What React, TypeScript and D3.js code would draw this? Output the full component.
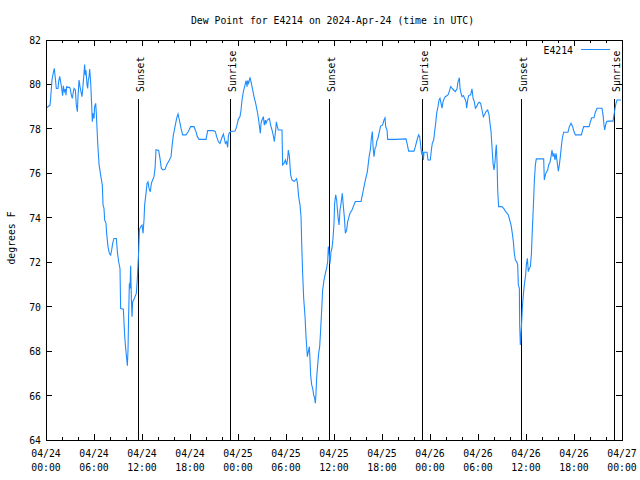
import React from "react";
import * as d3 from "d3";

const TITLE = "Dew Point for E4214 on 2024-Apr-24 (time in UTC)";
const Y_LABEL = "degrees F";
const SERIES_NAME = "E4214";

const yTicks = [64, 66, 68, 70, 72, 74, 76, 78, 80, 82];
const xTickHours = [0, 6, 12, 18, 24, 30, 36, 42, 48, 54, 60, 66, 72];
const xTickDates = ["04/24", "04/24", "04/24", "04/24", "04/25", "04/25", "04/25", "04/25", "04/26", "04/26", "04/26", "04/26", "04/27"];
const xTickTimes = ["00:00", "06:00", "12:00", "18:00", "00:00", "06:00", "12:00", "18:00", "00:00", "06:00", "12:00", "18:00", "00:00"];

const sunHours = [11.55, 23.03, 35.42, 46.94, 59.42, 70.94];
const sunLabels = ["Sunset", "Sunrise", "Sunset", "Sunrise", "Sunset", "Sunrise"];

// hours since 2024-04-24 00:00 UTC
const dewHours = [
  0.08, 0.5, 0.58, 0.75, 0.92, 1.04, 1.17, 1.29, 1.5, 1.58, 1.71, 1.83, 1.96, 2.08, 2.17, 2.29, 2.42, 2.5, 2.58, 2.79,
  2.96, 3.04, 3.17, 3.29, 3.42, 3.5, 3.67, 3.79, 3.92, 4.0, 4.13, 4.25, 4.38, 4.5, 4.63, 4.75, 4.83, 4.92, 5.0, 5.13,
  5.21, 5.29, 5.38, 5.46, 5.58, 5.71, 5.79, 5.88, 6.0, 6.08, 6.21, 6.29, 6.46, 6.63, 6.83, 7.04, 7.13, 7.25, 7.33, 7.5,
  7.58, 7.75, 7.92, 8.08, 8.21, 8.33, 8.5, 8.79, 8.92, 9.08, 9.25, 9.33, 9.67, 9.83, 9.96, 10.08, 10.17, 10.25, 10.33, 10.42,
  10.5, 10.58, 10.67, 10.75, 10.83, 10.96, 11.13, 11.29, 11.42, 11.58, 11.67, 11.83, 12.0, 12.13, 12.25, 12.33, 12.5, 12.63, 12.75, 12.88,
  13.04, 13.17, 13.33, 13.5, 13.63, 13.75, 14.08, 14.25, 14.42, 14.63,
  14.88, 15.08, 15.42, 15.63, 15.75, 15.92, 16.13, 16.33, 16.5, 16.67, 16.88, 17.08, 17.5, 17.79, 18.08, 18.5, 18.75, 18.92, 19.13, 20.0,
  20.21, 20.92, 21.17, 21.33, 21.54, 21.75, 21.96, 22.17, 22.29, 22.42, 22.58, 22.71, 22.79, 22.88, 23.08, 23.63, 23.83, 24.04, 24.25, 24.38,
  24.5, 24.67, 24.88, 25.0, 25.13, 25.21, 25.33, 25.5, 25.63, 25.79, 26.0, 26.21, 26.42, 26.58, 26.71, 26.79, 26.88, 27.0, 27.17, 27.29,
  27.42, 27.5, 27.67, 27.92, 28.08, 28.25, 28.42, 28.54, 28.71, 28.79, 28.92,
  29.04, 29.17, 29.5, 29.58, 29.75, 29.92, 30.08, 30.21, 30.29, 30.42, 30.5, 30.58, 30.75, 31.04, 31.17, 31.33, 31.46, 31.58, 31.75, 31.88,
  31.96, 32.08, 32.21, 32.38, 32.5, 32.67, 32.79, 32.92, 33.0, 33.08, 33.21, 33.33, 33.46, 33.58, 33.67, 33.75, 33.83, 33.96, 34.08, 34.21,
  34.33, 34.46, 34.58, 34.75, 34.92, 35.08, 35.21, 35.29, 35.38, 35.5, 35.63, 35.75, 35.88, 36.0, 36.08, 36.21, 36.33, 36.5, 36.63, 36.75,
  36.88, 37.04, 37.17, 37.29, 37.42, 37.58, 37.71, 37.83, 38.0, 38.25, 38.5, 38.67, 39.38, 39.5, 39.67, 39.83, 40.0, 40.17, 40.29, 40.42,
  40.54, 40.67, 40.79, 40.88, 41.0, 41.13, 41.25, 41.33, 41.5, 41.67, 41.83, 42.08, 42.25, 42.38, 42.46, 42.63, 42.71, 43.75,
  45.0, 45.17, 45.33, 46.0, 46.17, 46.38, 46.58, 46.71, 46.79, 46.92, 47.0, 47.08, 47.17, 47.25, 47.63, 47.75, 48.04, 48.17, 48.29, 48.46,
  48.58, 48.71, 48.83, 49.0, 49.13, 49.25, 49.38, 49.5, 49.63, 49.79, 49.92, 50.13, 50.25, 50.42, 50.58, 50.75, 50.96, 51.17, 51.38, 51.5,
  51.58, 51.67, 51.75, 51.88, 52.0, 52.17, 52.33, 52.5, 52.58, 52.71, 52.83, 53.08, 53.25, 53.38, 53.54, 53.67, 53.83, 54.0, 54.17, 54.33,
  54.5, 54.67, 54.83, 55.0, 55.21, 55.38, 55.5, 55.63, 55.75, 55.88, 56.0, 56.13, 56.21, 56.29, 56.38, 56.46, 56.58, 57.0, 57.25, 57.42,
  57.79, 57.96, 58.13, 58.29, 58.42, 58.54, 58.67, 58.83, 58.96, 59.04, 59.17, 59.21, 59.29, 59.38, 59.46, 59.54, 59.67, 59.79, 59.96, 60.04,
  60.17, 60.29, 60.42, 60.54, 60.67, 60.79, 60.92, 61.04, 61.17, 61.29, 62.21, 62.29, 62.42, 62.54, 62.71, 62.83, 63.0, 63.13, 63.25, 63.38,
  63.5, 63.63, 63.75, 63.92, 64.04, 64.17, 64.29, 64.42, 64.54, 64.71, 65.25, 65.42, 65.63, 65.83, 66.0, 66.17, 66.92, 67.08, 67.21, 67.88,
  68.04, 68.21, 68.5, 68.67, 68.88, 69.5, 69.63, 69.75, 69.83, 69.96, 70.08, 70.29, 70.88, 71.0, 71.13, 71.25, 71.38, 71.88,
];

const dewValues = [
  78.95, 79.07, 79.37, 80.2, 80.54, 80.72, 80.27, 79.82, 79.82, 80.12, 80.36, 80.12, 79.82, 79.49, 79.94, 79.67, 79.79, 79.52, 79.9, 79.87,
  79.87, 79.78, 79.52, 79.37, 79.67, 79.82, 79.75, 79.07, 78.77, 79.45, 80.2, 79.9, 79.67, 79.45, 79.97, 80.5, 80.9, 80.42, 80.64, 79.97,
  79.82, 80.2, 80.35, 80.69, 80.12, 79.07, 78.32, 78.7, 78.47, 79.0, 79.15, 78.7, 77.39, 76.4, 75.92, 75.47, 74.57, 74.42, 73.9, 73.75,
  73.3, 72.7, 72.4, 72.32, 72.55, 72.85, 73.07, 73.07, 72.47, 72.02, 71.72, 69.92, 69.89, 68.72, 68.12, 67.67, 67.34, 68.05, 69.62, 71.05,
  70.82, 71.84, 70.37, 69.55, 70.22, 70.3, 70.45, 70.6, 71.27, 72.47, 73.45, 73.6, 73.67, 73.3, 73.9, 74.57, 75.1, 75.55, 75.62, 75.32,
  75.17, 75.55, 75.7, 75.85, 76.22, 77.06, 77.03, 76.67, 76.22, 76.15,
  76.18, 76.38, 76.6, 76.75, 77.2, 77.73, 78.1, 78.47, 78.67, 78.4, 78.02, 77.73, 77.73, 77.88, 78.1, 78.1, 77.88, 77.65, 77.53, 77.53,
  77.92, 77.92, 77.88, 77.65, 77.43, 77.35, 77.58, 77.77, 77.58, 77.35, 77.43, 77.17, 77.65, 77.8, 77.88, 77.9, 78.1, 78.43, 78.55, 78.85,
  79.3, 79.68, 79.98, 80.17, 79.9, 80.17, 80.05, 80.32, 80.12, 79.83, 79.45, 79.15, 78.77, 78.4, 78.02, 77.8, 78.25, 78.4, 78.55, 78.17,
  78.4, 78.25, 78.4, 78.47, 78.17, 77.95, 77.68, 77.43, 77.95, 78.32, 78.1,
  77.95, 77.95, 77.95, 76.38, 76.45, 76.6, 76.38, 76.68, 77.05, 76.78, 76.33, 75.93, 75.7, 75.63, 75.7, 75.76, 75.47, 74.95, 74.58, 74.05,
  72.85, 71.5, 70.38, 69.55, 68.65, 67.75, 67.98, 68.2, 67.6, 66.93, 66.48, 66.33, 66.03, 65.88, 65.65, 66.1, 66.78, 67.38, 67.9, 68.2,
  68.95, 69.85, 70.75, 71.2, 71.5, 71.73, 72.03, 72.7, 72.48, 71.95, 72.48, 72.63, 73.08, 73.75, 74.65, 75.03, 74.8, 74.05, 73.68, 74.35,
  74.65, 75.1, 74.5, 74.05, 73.3, 73.45, 73.83, 73.98, 74.2, 74.35, 74.58, 74.73, 74.73, 74.95, 75.25, 75.55, 75.82, 76.08, 76.45, 76.83,
  77.05, 77.58, 77.88, 77.2, 76.75, 77.13, 77.2, 77.43, 77.58, 77.88, 78.13, 78.18, 78.4, 78.5, 78.1, 77.95, 77.53, 77.53,
  77.55, 77.28, 77.0, 77.0, 77.2, 77.5, 77.73, 77.65, 77.4, 76.98, 76.83, 77.0, 76.6, 76.95, 76.95, 76.6, 76.6, 77.05, 77.35, 77.5,
  77.88, 78.25, 78.7, 79.0, 79.3, 79.38, 79.15, 78.93, 79.23, 79.38, 79.45, 79.5, 79.53, 79.7, 79.9, 79.83, 79.75, 79.68, 79.8, 80.13,
  80.2, 80.3, 79.83, 79.6, 79.45, 79.5, 79.38, 79.23, 78.93, 79.3, 79.5, 79.53, 79.8, 79.38, 79.23, 78.93, 79.0, 79.15, 79.2, 79.15,
  78.85, 78.55, 78.65, 78.78, 78.85, 78.63, 78.25, 77.88, 77.2, 76.45, 76.15, 76.53, 76.98, 77.28, 76.53, 75.25, 74.5, 74.5, 74.4, 74.3,
  74.13, 73.9, 73.68, 73.3, 72.93, 72.4, 72.1, 72.03, 71.88, 70.98, 70.83, 69.18, 68.28, 68.73, 69.33, 69.93, 70.53, 70.98, 71.43, 71.88,
  72.18, 71.58, 71.73, 71.8, 72.33, 73.45, 74.5, 75.63, 76.38, 76.65, 76.65, 75.7, 75.93, 76.05, 76.15, 76.38, 76.5, 76.75, 77.05, 76.75,
  76.9, 76.6, 76.9, 76.45, 76.1, 76.38, 76.75, 77.2, 77.58, 77.85, 77.85, 78.1, 78.25, 78.1, 77.88, 77.73, 77.73, 77.95, 78.1, 78.1,
  78.3, 78.5, 78.5, 78.75, 78.93, 78.93, 78.63, 78.18, 77.95, 78.18, 78.33, 78.35, 78.35, 78.63, 78.93, 79.15, 79.3, 79.3,
];

const FONT = "'DejaVu Sans Mono', monospace";
const CHAR_W = 5.9;

const M = { left: 46, right: 622, top: 40, bottom: 440 };

function T(props: any) {
  const { children, ...rest } = props;
  const s = String(children);
  return (
    <text
      fontFamily={FONT}
      fontSize={11}
      textLength={s.length * CHAR_W}
      lengthAdjust="spacingAndGlyphs"
      fill="#000"
      {...rest}
    >
      {s}
    </text>
  );
}

export default function App() {
  const x = d3.scaleLinear().domain([0, 72]).range([M.left, M.right]);
  const y = d3.scaleLinear().domain([64, 82]).range([M.bottom, M.top]);

  const pts: [number, number][] = dewHours.map((h, i) => [h, dewValues[i]]);
  const line = d3
    .line<[number, number]>()
    .x((d) => x(d[0]))
    .y((d) => y(d[1]));

  const minorHours = d3.range(0, 73, 2).filter((h) => h % 6 !== 0);

  return (
    <svg
      width={640}
      height={480}
      style={{ position: "absolute", left: 0, top: 0, background: "#fff" }}
      shapeRendering="crispEdges"
    >
      <rect x={0} y={0} width={640} height={480} fill="#fff" />
      <T x={332.5} y={24} textAnchor="middle">{TITLE}</T>

      {/* y ticks */}
      {yTicks.map((v) => (
        <g key={"y" + v}>
          <line x1={M.left} x2={M.left + 6} y1={y(v)} y2={y(v)} stroke="#000" />
          <line x1={M.right - 6} x2={M.right} y1={y(v)} y2={y(v)} stroke="#000" />
          <T x={41} y={y(v) + 4} textAnchor="end">{String(v)}</T>
        </g>
      ))}

      {/* x ticks */}
      {xTickHours.map((h, i) => (
        <g key={"x" + h}>
          <line x1={x(h)} x2={x(h)} y1={M.bottom} y2={M.bottom - 6} stroke="#000" />
          <line x1={x(h)} x2={x(h)} y1={M.top} y2={M.top + 6} stroke="#000" />
          <T x={x(h)} y={457} textAnchor="middle">{xTickDates[i]}</T>
          <T x={x(h)} y={471} textAnchor="middle">{xTickTimes[i]}</T>
        </g>
      ))}
      {minorHours.map((h) => (
        <g key={"m" + h}>
          <line x1={x(h)} x2={x(h)} y1={M.bottom} y2={M.bottom - 3} stroke="#000" />
          <line x1={x(h)} x2={x(h)} y1={M.top} y2={M.top + 3} stroke="#000" />
        </g>
      ))}

      <T x={0} y={0} textAnchor="middle" transform={`translate(15,238) rotate(-90)`}>{Y_LABEL}</T>

      {/* sunrise / sunset */}
      {sunHours.map((h, i) => (
        <g key={"s" + i}>
          <line x1={Math.round(x(h)) + 0.5} x2={Math.round(x(h)) + 0.5} y1={99} y2={M.bottom} stroke="#000" strokeWidth={1.2} />
          <T x={0} y={0} textAnchor="start" transform={`translate(${Math.round(x(h)) + 6},92) rotate(-90)`}>
            {sunLabels[i]}
          </T>
        </g>
      ))}

      <path d={line(pts) || ""} fill="none" stroke="#1e8cff" strokeWidth={1.1} shapeRendering="auto" />

      {/* legend */}
      <T x={573} y={53.5} textAnchor="end">{SERIES_NAME}</T>
      <line x1={581} x2={610} y1={49.5} y2={49.5} stroke="#1e8cff" />

      <rect x={M.left + 0.5} y={M.top + 0.5} width={M.right - M.left} height={M.bottom - M.top} fill="none" stroke="#000" />
    </svg>
  );
}
